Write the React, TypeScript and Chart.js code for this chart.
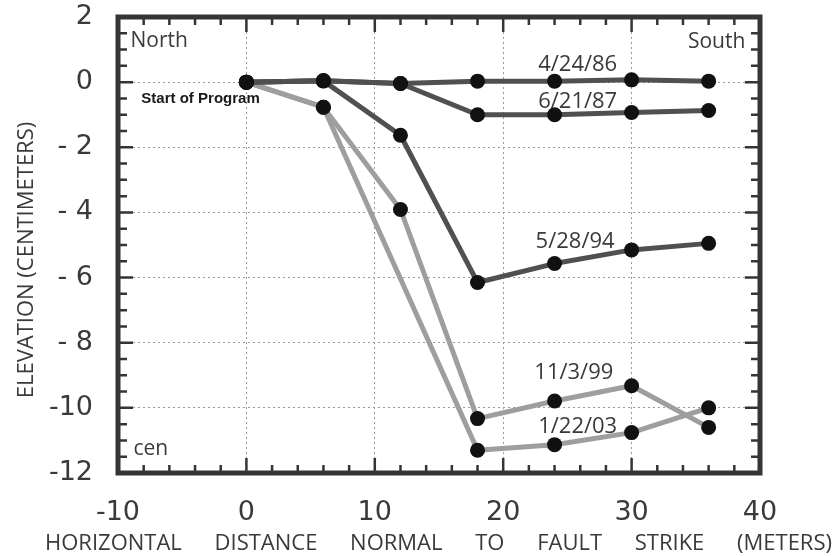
import React, { useEffect, useRef } from "react";
import { Chart, registerables } from "chart.js";

Chart.register(...registerables);

// ---- data ----
const distances = [0, 6, 12, 18, 24, 30, 36];
const elev860424 = [0, 0.04, -0.04, 0.03, 0.03, 0.07, 0.03];
const elev870621 = [0, 0.04, -0.04, -1.0, -1.0, -0.93, -0.87];
const elev940528 = [0, 0.04, -1.63, -6.15, -5.57, -5.15, -4.95];
const elev991103 = [0, -0.77, -3.91, -10.33, -9.79, -9.32, -10.6];
const elev030122 = [0, -0.77, null, -11.3, -11.13, -10.76, -10.0];

const seriesNames = ["4/24/86", "6/21/87", "5/28/94", "11/3/99", "1/22/03"];
const seriesLabelX = [25.8, 25.8, 25.6, 25.5, 25.8];
const seriesLabelY = [0.33, -0.78, -5.09, -9.11, -10.77];

const xTicksMajor = [-10, 0, 10, 20, 30, 40];
const yTicksMajor = [2, 0, -2, -4, -6, -8, -10, -12];
const xTitleWords = ["HORIZONTAL", "DISTANCE", "NORMAL", "TO", "FAULT", "STRIKE", "(METERS)"];
const yTitle = "ELEVATION (CENTIMETERS)";

const noteTexts = ["North", "South", "cen"];
const noteX = [-9.03, 38.86, -8.8];
const noteY = [1.07, 1.04, -11.44];
const noteAlign = ["left", "right", "left"];
const startText = "Start of Program";
const startX = -8.18;
const startY = -0.64;

const DARK = "#505050";
const LIGHT = "#9e9e9e";
const TEXT = "#3a3a3a";
const FRAME = "#353535";

function toPoints(vals: (number | null)[]) {
  return distances.map((x, i) => ({ x, y: vals[i] }));
}

const overlay = {
  id: "overlay",
  beforeDatasetsDraw(chart: any) {
    const { ctx, chartArea } = chart;
    const xs = chart.scales.x;
    const ys = chart.scales.y;
    const { left, right, top, bottom } = chartArea;
    ctx.save();
    ctx.strokeStyle = FRAME;
    ctx.lineCap = "butt";
    ctx.lineWidth = 2.5;
    for (let v = xTicksMajor[0]; v <= xTicksMajor[xTicksMajor.length - 1]; v += 2) {
      const px = xs.getPixelForValue(v);
      const len = v % 10 === 0 ? 15 : 8;
      ctx.beginPath();
      ctx.moveTo(px, bottom);
      ctx.lineTo(px, bottom - len);
      ctx.moveTo(px, top);
      ctx.lineTo(px, top + len);
      ctx.stroke();
    }
    for (let v = -12; v <= 2; v += 0.5) {
      const py = ys.getPixelForValue(v);
      const len = Math.abs(v % 2) < 1e-6 ? 15 : 9;
      ctx.beginPath();
      ctx.moveTo(left, py);
      ctx.lineTo(left + len, py);
      ctx.moveTo(right, py);
      ctx.lineTo(right - len, py);
      ctx.stroke();
    }
    ctx.lineWidth = 5;
    ctx.lineJoin = "miter";
    ctx.strokeRect(left, top, right - left, bottom - top);
    ctx.restore();
  },
  afterDraw(chart: any) {
    const { ctx, chartArea } = chart;
    const xs = chart.scales.x;
    const ys = chart.scales.y;
    ctx.save();
    ctx.fillStyle = TEXT;
    ctx.textBaseline = "alphabetic";
    ctx.font = "22px 'Open Sans'";
    ctx.textAlign = "center";
    seriesNames.forEach((t, i) => {
      ctx.fillText(t, xs.getPixelForValue(seriesLabelX[i]), ys.getPixelForValue(seriesLabelY[i]));
    });
    ctx.font = "21px 'Open Sans'";
    noteTexts.forEach((t, i) => {
      ctx.textAlign = noteAlign[i];
      ctx.fillText(t, xs.getPixelForValue(noteX[i]), ys.getPixelForValue(noteY[i]));
    });
    ctx.font = "bold 15px 'Liberation Sans'";
    ctx.fillStyle = "#1a1a1a";
    ctx.textAlign = "left";
    ctx.fillText(startText, xs.getPixelForValue(startX), ys.getPixelForValue(startY));
    // x title, justified
    ctx.fillStyle = TEXT;
    ctx.font = "22px 'Open Sans'";
    const x0 = chartArea.left - 73;
    const x1 = chartArea.right + 72;
    const widths = xTitleWords.map((w) => ctx.measureText(w).width);
    const total = widths.reduce((a, b) => a + b, 0);
    const gap = (x1 - x0 - total) / (xTitleWords.length - 1);
    let cx = x0;
    ctx.textAlign = "left";
    xTitleWords.forEach((w, i) => {
      ctx.fillText(w, cx, chartArea.bottom + 77);
      cx += widths[i] + gap;
    });
    // y title, rotated
    ctx.translate(33, (chartArea.top + chartArea.bottom) / 2 + 15);
    ctx.rotate(-Math.PI / 2);
    ctx.textAlign = "center";
    ctx.fillText(yTitle, 0, 0);
    ctx.restore();
  },
};

export default function App() {
  const ref = useRef<HTMLCanvasElement | null>(null);
  useEffect(() => {
    if (!ref.current) return;
    const all = [elev860424, elev870621, elev940528, elev991103, elev030122];
    const colors = [DARK, DARK, DARK, LIGHT, LIGHT];
    const lineSets = all.map((vals, i) => ({
      label: seriesNames[i],
      data: toPoints(vals),
      borderColor: colors[i],
      backgroundColor: colors[i],
      borderWidth: 5,
      pointRadius: 0,
      spanGaps: true,
      tension: 0,
      fill: false,
      borderJoinStyle: "round" as const,
      borderCapStyle: "round" as const,
      order: colors[i] === DARK ? 1 : 2,
    }));
    const pointSets = all.map((vals, i) => ({
      label: seriesNames[i] + " pts",
      data: toPoints(vals).filter((p) => p.y !== null),
      showLine: false,
      pointRadius: 7.5,
      pointBackgroundColor: "#111",
      pointBorderColor: "#111",
      pointBorderWidth: 0,
      order: 0,
    }));
    const chart = new Chart(ref.current, {
      type: "line",
      data: { datasets: [...lineSets, ...pointSets] as any },
      options: {
        animation: false,
        responsive: false,
        layout: { padding: { top: 17, right: 76, left: 0, bottom: 0 } },
        plugins: { legend: { display: false }, tooltip: { enabled: false } },
        scales: {
          x: {
            type: "linear",
            min: -10,
            max: 40,
            afterFit(scale: any) {
              scale.height = 83;
              scale.paddingLeft = 0;
              scale.paddingRight = 0;
            },
            afterBuildTicks(scale: any) {
              scale.ticks = xTicksMajor.map((v) => ({ value: v }));
            },
            ticks: {
              font: { family: "'DejaVu Sans'", size: 27 },
              color: TEXT,
              padding: 24,
              maxRotation: 0,
              autoSkip: false,
            },
            grid: { color: "#9a9a9a", lineWidth: 1, drawTicks: false },
            border: { display: false, dash: [2, 3] },
          },
          y: {
            type: "linear",
            min: -12,
            max: 2,
            afterFit(scale: any) {
              scale.width = 118;
              scale.paddingTop = 0;
              scale.paddingBottom = 0;
            },
            afterBuildTicks(scale: any) {
              scale.ticks = yTicksMajor.map((v) => ({ value: v }));
            },
            ticks: {
              font: { family: "'DejaVu Sans'", size: 27 },
              color: TEXT,
              padding: 25,
              autoSkip: false,
              callback: (v: any) => (v < 0 && v > -10 ? "- " + -v : String(v)),
            },
            grid: { color: "#9a9a9a", lineWidth: 1, drawTicks: false },
            border: { display: false, dash: [2, 3] },
          },
        },
      },
      plugins: [overlay],
    });
    return () => chart.destroy();
  }, []);
  return (
    <div style={{ position: "fixed", left: 0, top: 0, width: 836, height: 556, background: "#fff" }}>
      <canvas ref={ref} width={836} height={556} style={{ display: "block" }} />
    </div>
  );
}
